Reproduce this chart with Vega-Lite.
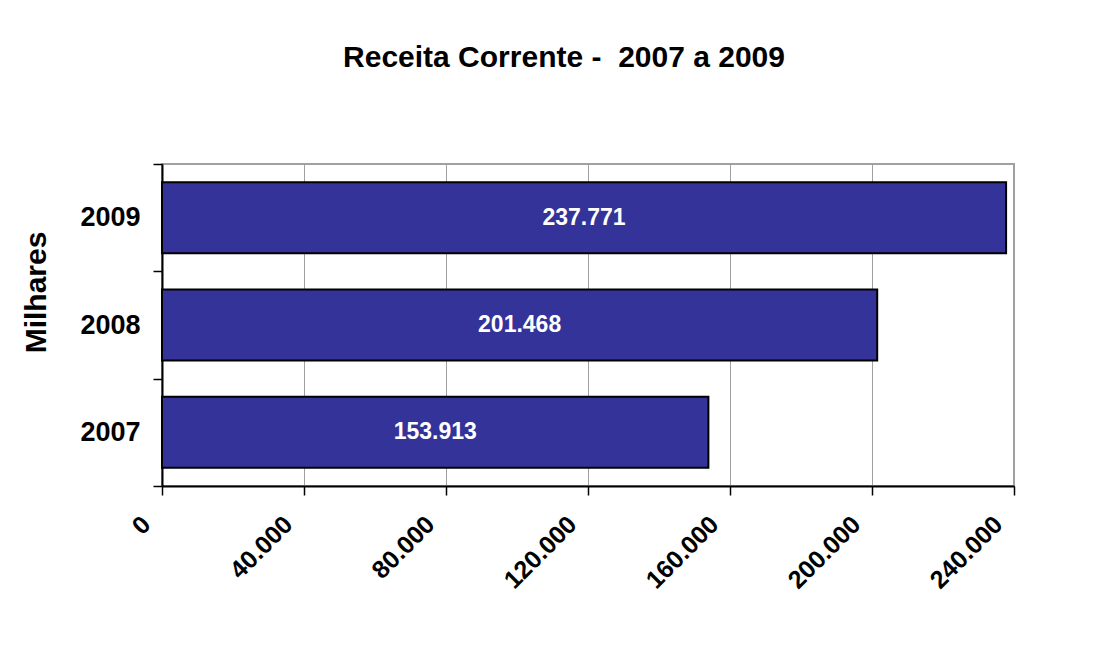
{
  "$schema": "https://vega.github.io/schema/vega-lite/v6.json",
  "autosize": {"type": "none"},
  "width": 852,
  "height": 322,
  "padding": {"left": 162, "top": 164, "right": 94, "bottom": 167},
  "background": "white",
  "config": {
    "locale": {"number": {"decimal": ",", "thousands": ".", "grouping": [3], "currency": ["R$", ""]}},
    "font": "Liberation Sans",
    "view": {"stroke": "#a0a0a0", "strokeWidth": 2}
  },
  "title": {
    "text": "Receita Corrente -\u00a0 2007 a 2009",
    "font": "Liberation Sans",
    "fontSize": 30,
    "fontWeight": "bold",
    "color": "black",
    "anchor": "middle",
    "frame": "group",
    "baseline": "bottom",
    "offset": 47,
    "dx": -24
  },
  "data": {
    "values": [
      {"ano": "2007", "receita": 153913},
      {"ano": "2008", "receita": 201468},
      {"ano": "2009", "receita": 237771}
    ]
  },
  "encoding": {
    "y": {
      "field": "ano",
      "type": "nominal",
      "sort": ["2009", "2008", "2007"],
      "scale": {"paddingInner": 0, "paddingOuter": 0},
      "axis": {
        "title": "Milhares",
        "titleFont": "Liberation Sans",
        "titleFontSize": 30,
        "titleFontWeight": "bold",
        "titleColor": "black",
        "titleAngle": -90,
        "titleAlign": "center",
        "titleBaseline": "alphabetic",
        "titleX": -117,
        "titleY": 128,
        "labelFont": "Liberation Sans",
        "labelFontSize": 27,
        "labelFontWeight": "bold",
        "labelColor": "black",
        "labelPadding": 13,
        "tickBand": "extent",
        "tickSize": 9,
        "tickColor": "black",
        "tickWidth": 1.5,
        "domainColor": "black",
        "domainWidth": 2,
        "grid": false
      }
    }
  },
  "layer": [
    {
      "mark": {"type": "bar", "color": "#333399", "stroke": "black", "strokeWidth": 2, "height": {"band": 0.662}},
      "encoding": {
        "x": {
          "field": "receita",
          "type": "quantitative",
          "scale": {"domain": [0, 240000], "nice": false},
          "axis": {
            "title": null,
            "values": [0, 40000, 80000, 120000, 160000, 200000, 240000],
            "format": ",d",
            "labelAngle": -45,
            "labelAlign": "right",
            "labelBaseline": "middle",
            "labelFont": "Liberation Sans",
            "labelFontSize": 25,
            "labelFontWeight": "bold",
            "labelColor": "black",
            "labelPadding": 25,
            "labelOffset": -16,
            "labelOverlap": false,
            "labelFlush": false,
            "labelBound": false,
            "tickSize": 9,
            "tickColor": "black",
            "tickWidth": 1.5,
            "domainColor": "black",
            "domainWidth": 2,
            "grid": true,
            "gridColor": "#a0a0a0",
            "gridWidth": 1
          }
        }
      }
    },
    {
      "transform": [{"calculate": "datum.receita / 2", "as": "meio"}],
      "mark": {
        "type": "text",
        "color": "white",
        "font": "Liberation Sans",
        "fontSize": 23,
        "fontWeight": "bold",
        "align": "center",
        "baseline": "middle"
      },
      "encoding": {
        "x": {"field": "meio", "type": "quantitative"},
        "text": {"field": "receita", "type": "quantitative", "format": ",d"}
      }
    }
  ]
}
